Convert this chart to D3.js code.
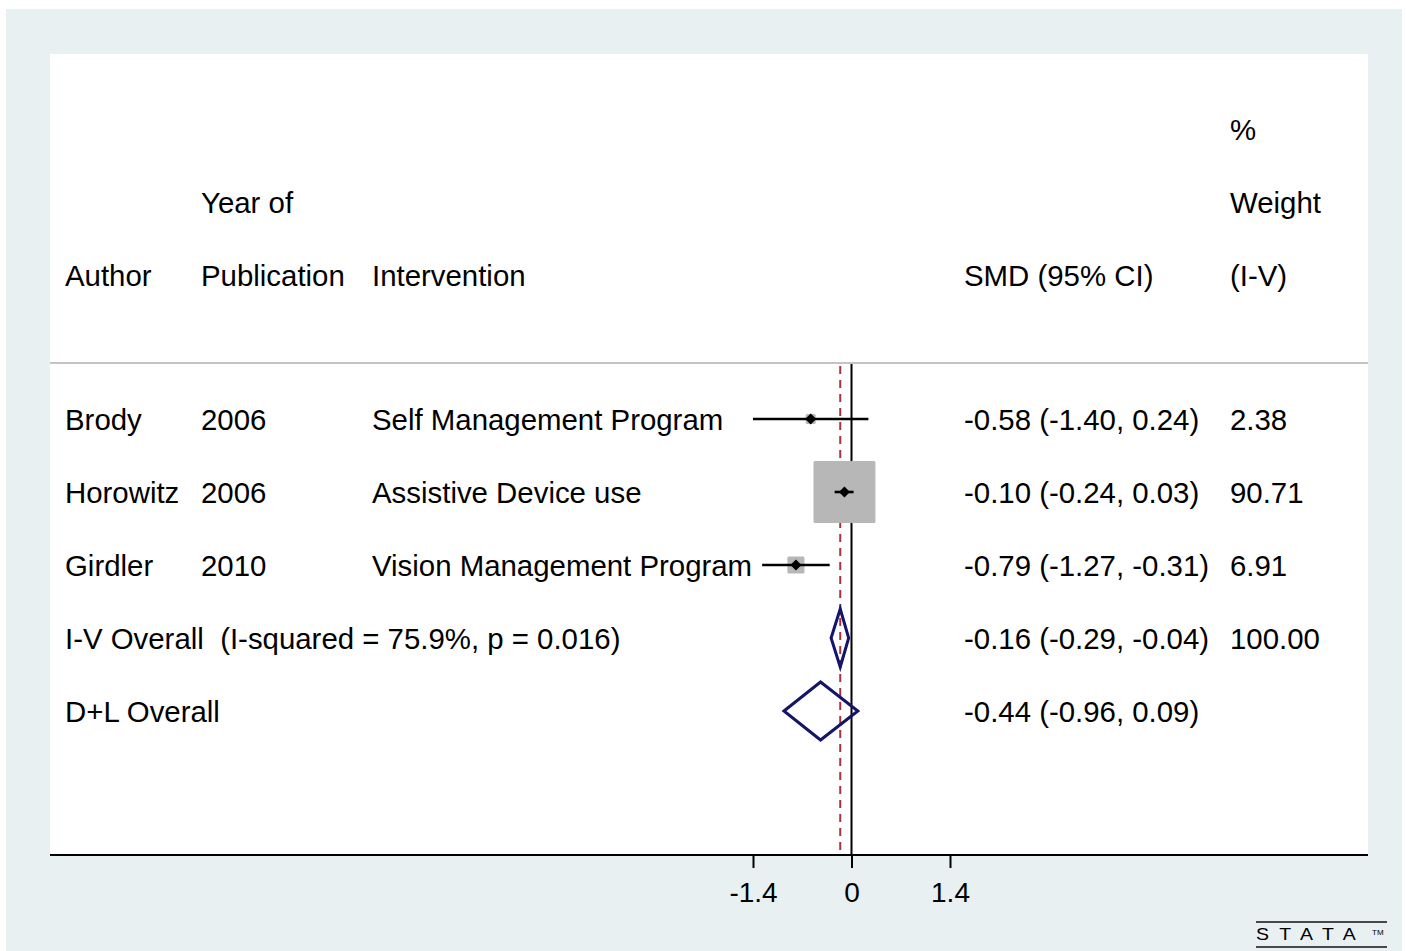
<!DOCTYPE html>
<html>
<head>
<meta charset="utf-8">
<script src="https://cdn.jsdelivr.net/npm/d3@7"></script>
<style>
  html, body { margin: 0; padding: 0; background: #ffffff; }
  svg { display: block; }
  text { font-family: "Liberation Sans", Arial, Helvetica, sans-serif; fill: #000; white-space: pre; }
</style>
</head>
<body>
<svg id="chart" width="1406" height="951"></svg>
<script>
// Study-level results (standardised mean difference, 95% CI, inverse-variance weight)
const authors = ["Brody", "Horowitz", "Girdler"];
const years = ["2006", "2006", "2010"];
const interventions = ["Self Management Program", "Assistive Device use", "Vision Management Program"];
const smd = [-0.58, -0.10, -0.79];
const lower = [-1.40, -0.24, -1.27];
const upper = [0.24, 0.03, -0.31];
const weights = [2.38, 90.71, 6.91];

// Pooled estimates
const pooledLabels = ["I-V Overall  (I-squared = 75.9%, p = 0.016)", "D+L Overall"];
const pooledEst = [-0.16, -0.44];
const pooledLower = [-0.29, -0.96];
const pooledUpper = [-0.04, 0.09];
const pooledWeight = ["100.00", ""];

const tickValues = [-1.4, 0, 1.4];

// Plain hyphen for negatives, as Stata prints them
const fmt = v => d3.format(".2f")(v).replace("\u2212", "-");
const ciText = (e, l, u) => `${fmt(e)} (${fmt(l)}, ${fmt(u)})`;

const svg = d3.select("#chart");

// Outer panel and plot region
svg.append("rect").attr("x", 6).attr("y", 9).attr("width", 1396).attr("height", 942).attr("fill", "#e8f0f2");
const plot = { left: 50, right: 1368, top: 54, bottom: 855 };
svg.append("rect").attr("x", plot.left).attr("y", plot.top)
  .attr("width", plot.right - plot.left).attr("height", plot.bottom - plot.top).attr("fill", "#ffffff");

// Scales
const x = d3.scaleLinear().domain([-1.4, 1.4]).range([753, 950]);
const rowY = { h1: 129, h2: 202, h3: 275, r0: 419, r1: 492, r2: 565, p0: 638, p1: 711 };
const y = r => rowY[r];
const boxSize = d3.scaleSqrt().domain([0, 100]).range([0, 65]);

const col = { author: 65, year: 201, interv: 372, smd: 964, weight: 1230 };
const fs = 29.4;

function label(xp, yp, str) {
  svg.append("text").attr("x", xp).attr("y", yp).attr("dy", "0.36em")
    .attr("font-size", fs).text(str);
}

// Header
label(col.weight, y("h1"), "%");
label(col.year, y("h2"), "Year of");
label(col.weight, y("h2"), "Weight");
label(col.author, y("h3"), "Author");
label(col.year, y("h3"), "Publication");
label(col.interv, y("h3"), "Intervention");
label(col.smd, y("h3"), "SMD (95% CI)");
label(col.weight, y("h3"), "(I-V)");

// Separator under header
svg.append("line").attr("x1", plot.left).attr("x2", plot.right)
  .attr("y1", 363).attr("y2", 363).attr("stroke", "#c4c4c4").attr("stroke-width", 2);

// Reference lines
svg.append("line").attr("x1", x(0)).attr("x2", x(0)).attr("y1", 364).attr("y2", plot.bottom)
  .attr("stroke", "#000").attr("stroke-width", 2);
svg.append("line").attr("x1", x(pooledEst[0])).attr("x2", x(pooledEst[0])).attr("y1", 366).attr("y2", plot.bottom)
  .attr("stroke", "#a8323c").attr("stroke-width", 2).attr("stroke-dasharray", "8,6");

// Study rows
const studies = authors.map((a, i) => ({ a, yr: years[i], iv: interventions[i], e: smd[i], l: lower[i], u: upper[i], w: weights[i], r: "r" + i }));

studies.forEach(d => {
  const yy = y(d.r);
  const s = boxSize(d.w);
  svg.append("rect").attr("x", x(d.e) - s / 2).attr("y", yy - s / 2).attr("width", s).attr("height", s)
    .attr("rx", 1.5).attr("fill", "#b7b7b7");
  svg.append("line").attr("x1", x(d.l)).attr("x2", x(d.u)).attr("y1", yy).attr("y2", yy)
    .attr("stroke", "#000").attr("stroke-width", 2.6);
  const m = 5.5;
  svg.append("path").attr("d", `M${x(d.e) - m},${yy} L${x(d.e)},${yy - m} L${x(d.e) + m},${yy} L${x(d.e)},${yy + m} Z`)
    .attr("fill", "#000");
  label(col.author, yy, d.a);
  label(col.year, yy, d.yr);
  label(col.interv, yy, d.iv);
  label(col.smd, yy, ciText(d.e, d.l, d.u));
  label(col.weight, yy, d3.format(".2f")(d.w));
});

// Pooled diamonds
pooledLabels.forEach((lab, i) => {
  const yy = y("p" + i);
  const h = 29;
  svg.append("path")
    .attr("d", `M${x(pooledLower[i])},${yy} L${x(pooledEst[i])},${yy - h} L${x(pooledUpper[i])},${yy} L${x(pooledEst[i])},${yy + h} Z`)
    .attr("fill", "none").attr("stroke", "#14146b").attr("stroke-width", 3).attr("stroke-linejoin", "miter");
  label(col.author, yy, lab);
  label(col.smd, yy, ciText(pooledEst[i], pooledLower[i], pooledUpper[i]));
  if (pooledWeight[i]) label(col.weight, yy, pooledWeight[i]);
});

// X axis
svg.append("line").attr("x1", plot.left).attr("x2", plot.right).attr("y1", plot.bottom).attr("y2", plot.bottom)
  .attr("stroke", "#000").attr("stroke-width", 2);
const axis = d3.axisBottom(x).tickValues(tickValues).tickSize(13).tickSizeOuter(0)
  .tickFormat(d => d === 0 ? "0" : d3.format(".1f")(d).replace("\u2212", "-"));
const gAxis = svg.append("g").attr("transform", `translate(0,${plot.bottom})`).call(axis);
gAxis.select(".domain").remove();
gAxis.selectAll(".tick line").attr("stroke", "#000").attr("stroke-width", 2);
gAxis.selectAll(".tick text").attr("font-size", 28).attr("y", 27).attr("dy", "0.71em")
  .attr("font-family", "Liberation Sans, Arial, sans-serif").attr("fill", "#000");

// Stata mark
svg.append("line").attr("x1", 1256).attr("x2", 1387).attr("y1", 922).attr("y2", 922).attr("stroke", "#111").attr("stroke-width", 1.5);
svg.append("line").attr("x1", 1256).attr("x2", 1387).attr("y1", 947).attr("y2", 947).attr("stroke", "#111").attr("stroke-width", 1.5);
svg.append("text").attr("x", 1256).attr("y", 940).attr("font-size", 24)
  .attr("font-variant", "small-caps").attr("letter-spacing", 9)
  .attr("textLength", 110).attr("lengthAdjust", "spacingAndGlyphs").attr("fill", "#555")
  .text("stata");
svg.append("text").attr("x", 1372).attr("y", 935).attr("font-size", 8).attr("fill", "#555").text("TM");
</script>
</body>
</html>
